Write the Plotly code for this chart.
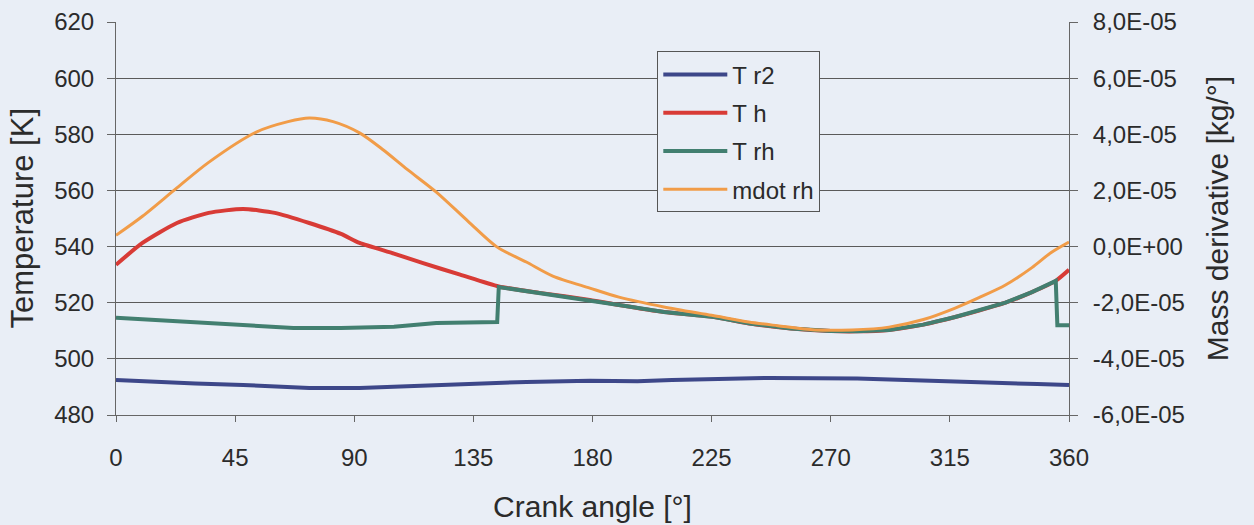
import plotly.graph_objects as go

# ---------------- data ----------------
# T r2 [K]
angle_r2 = [0, 14, 30, 48, 60, 73, 92, 108, 124, 140, 155, 179, 197, 210, 247, 280, 300, 323, 348, 360]
T_r2 = [492.5, 491.8, 491.2, 490.7, 490.2, 489.6, 489.6, 490.2, 490.7, 491.3, 491.8, 492.2, 492.0, 492.5, 493.2, 493.0, 492.6, 491.8, 491.0, 490.7]

# T rh [K]
angle_rh = [0, 14, 30, 48, 67, 85, 105, 121, 144, 144.6, 160, 179, 190, 207, 226, 240, 255, 270, 280,
            292, 305, 317, 326, 336, 346, 355, 355.6, 360]
T_rh = [514.6, 513.8, 513.0, 512.0, 511.0, 511.0, 511.4, 512.8, 513.1, 525.6, 523.5, 521.0, 519.2, 516.7, 514.9,
        512.5, 510.8, 509.9, 509.8, 510.3, 512.2, 514.9, 517.2, 520.0, 523.8, 527.8, 512.0, 512.0]

# T h [K]
angle_h = [0, 10, 23, 35, 48, 60, 73, 85, 92, 105, 116, 130, 144.6, 160, 179, 190, 207, 226, 240, 255, 270,
           280, 292, 305, 317, 326, 336, 346, 355, 360]
T_h = [533.5, 541.3, 548.4, 552.0, 553.4, 552.0, 548.4, 544.5, 541.3, 537.5, 534.1, 530.0, 525.8, 523.5, 521.0,
       519.2, 516.7, 514.9, 512.5, 510.8, 509.9, 509.8, 510.3, 512.2, 514.9, 517.2, 520.0, 523.8, 527.8, 531.7]

# mdot rh [kg/deg]
angle_m = [0, 10, 23, 35, 53, 65, 73, 82, 92, 101, 110, 121, 133, 144, 155, 165, 179, 190, 207, 225, 239,
           250, 264, 278, 292, 305, 317, 326, 336, 346, 353, 360]
mdot_rh = [4.0e-6, 1.08e-5, 2.09e-5, 3.0e-5, 4.08e-5, 4.45e-5, 4.58e-5, 4.45e-5, 4.05e-5, 3.44e-5, 2.75e-5,
           1.94e-5, 9.0e-6, -2.0e-7, -5.5e-6, -1.05e-5, -1.48e-5, -1.8e-5, -2.15e-5, -2.45e-5, -2.69e-5,
           -2.82e-5, -2.97e-5, -2.97e-5, -2.87e-5, -2.6e-5, -2.19e-5, -1.82e-5, -1.37e-5, -7.5e-6, -2.3e-6, 1.6e-6]

x_ticks = [0, 45, 90, 135, 180, 225, 270, 315, 360]
y2_tickvals = [-6e-5, -4e-5, -2e-5, 0, 2e-5, 4e-5, 6e-5, 8e-5]
y2_ticktext = ["-6,0E-05", "-4,0E-05", "-2,0E-05", "0,0E+00", "2,0E-05", "4,0E-05", "6,0E-05", "8,0E-05"]

# ---------------- figure ----------------
BG = "#e9eef6"
FONT = "Liberation Sans, Arial, sans-serif"
TXT = "#2b2b2b"

fig = go.Figure()
fig.add_trace(go.Scatter(x=angle_r2, y=T_r2, name="T r2", mode="lines",
                         line=dict(color="#3d4789", width=4), legendgroup="a"))
fig.add_trace(go.Scatter(x=angle_h, y=T_h, name="T h", mode="lines",
                         line=dict(color="#d83b36", width=4, shape="spline", smoothing=0.6), legendgroup="b"))
fig.add_trace(go.Scatter(x=angle_rh, y=T_rh, name="T rh", mode="lines",
                         line=dict(color="#427f70", width=4), legendgroup="c"))
fig.add_trace(go.Scatter(x=angle_m, y=mdot_rh, name="mdot rh", mode="lines", yaxis="y2",
                         line=dict(color="#f19c48", width=3, shape="spline", smoothing=0.8), legendgroup="d"))

fig.update_layout(
    width=1254, height=525,
    paper_bgcolor=BG, plot_bgcolor=BG,
    margin=dict(l=116, r=185, t=22, b=110, autoexpand=False),
    font=dict(family=FONT, size=24, color=TXT),
    showlegend=True,
    legend=dict(x=0.568, y=0.925, xanchor="left", yanchor="top",
                bgcolor=BG, bordercolor="#555555", borderwidth=1, itemwidth=64,
                font=dict(size=24, color=TXT), traceorder="grouped", tracegroupgap=4),
    xaxis=dict(range=[0, 360], tickvals=x_ticks, showgrid=False, zeroline=False, automargin=False,
               showline=True, linecolor="#666666", linewidth=1,
               ticks="outside", ticklen=6, tickcolor="#666666", ticklabelstandoff=15,
               title=dict(text="Crank angle [°]", font=dict(size=30), standoff=26)),
    yaxis=dict(range=[480, 620], dtick=20, showgrid=True, gridcolor="#5a5a5a", gridwidth=1,
               zeroline=False, showline=True, linecolor="#666666", linewidth=1, automargin=False,
               ticks="outside", ticklen=8, tickcolor="#666666", ticklabelstandoff=8),
    yaxis2=dict(range=[-6e-5, 8e-5], overlaying="y", side="right", anchor="x", automargin=False,
                tickvals=y2_tickvals, ticktext=y2_ticktext, showgrid=False, zeroline=False,
                showline=True, linecolor="#666666", linewidth=1,
                ticks="outside", ticklen=8, tickcolor="#666666", ticklabelstandoff=10,
                title=dict(text="Mass derivative [kg/°]", font=dict(size=30), standoff=23)),
    annotations=[dict(text="Temperature [K]", textangle=-90, xref="paper", yref="paper",
                      x=-0.0986, y=0.5, xanchor="center", yanchor="middle", showarrow=False,
                      font=dict(size=31, color=TXT))],
)

fig.write_html("out.html", config={"displayModeBar": False},
               post_script="document.body.style.margin='0';document.body.style.background='" + BG + "';")
